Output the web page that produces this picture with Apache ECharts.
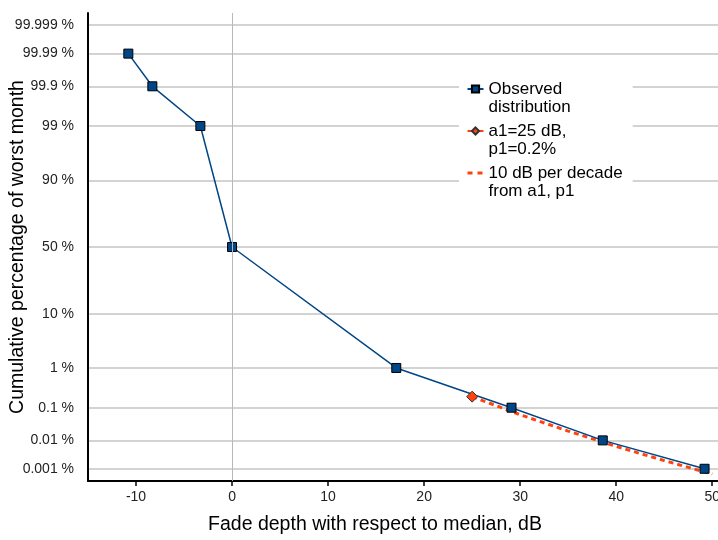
<!DOCTYPE html>
<html>
<head>
<meta charset="utf-8">
<style>
  html, body { margin: 0; padding: 0; background: #fff; }
  #chart { width: 718px; height: 540px; }
</style>
<script src="https://cdn.jsdelivr.net/npm/echarts@6/dist/echarts.min.js"></script>
</head>
<body>
<div id="chart"></div>
<script>
// observed distribution (fade depth dB, cumulative %)
const obsDepth = [-10.8, -8.3, -3.3, 0, 17.1, 29.1, 38.6, 49.2];
const obsPercent = [99.99, 99.9, 99, 50, 1, 0.1, 0.01, 0.001];
// reference point a1, p1
const refDepth = [25];
const refPercent = [0.2];
// 10 dB per decade from a1, p1
const slopeDepth = [25, 30, 35, 40, 45, 50];
const slopePercent = [0.2, 0.063, 0.02, 0.0063, 0.002, 0.00063];

const yTickPercent = [99.999, 99.99, 99.9, 99, 90, 50, 10, 1, 0.1, 0.01, 0.001];
const yTickLabels = ['99.999 %', '99.99 %', '99.9 %', '99 %', '90 %', '50 %', '10 %', '1 %', '0.1 %', '0.01 %', '0.001 %'];
const xTicks = [-10, 0, 10, 20, 30, 40, 50];

// normal probability scale: percent -> standard normal quantile
function probit(pct) {
  const p = pct / 100;
  const a = [-39.69683028665376, 220.9460984245205, -275.9285104469687, 138.3577518672690, -30.66479806614716, 2.506628277459239];
  const b = [-54.47609879822406, 161.5858368580409, -155.6989798598866, 66.80131188771972, -13.28068155288572];
  const c = [-0.007784894002430293, -0.3223964580411365, -2.400758277161838, -2.549732539343734, 4.374664141464968, 2.938163982698783];
  const d = [0.007784695709041462, 0.3224671290700398, 2.445134137142996, 3.754408661907416];
  const plow = 0.02425;
  let q, r;
  if (p < plow) {
    q = Math.sqrt(-2 * Math.log(p));
    return (((((c[0] * q + c[1]) * q + c[2]) * q + c[3]) * q + c[4]) * q + c[5]) /
      ((((d[0] * q + d[1]) * q + d[2]) * q + d[3]) * q + 1);
  }
  if (p > 1 - plow) {
    q = Math.sqrt(-2 * Math.log(1 - p));
    return -(((((c[0] * q + c[1]) * q + c[2]) * q + c[3]) * q + c[4]) * q + c[5]) /
      ((((d[0] * q + d[1]) * q + d[2]) * q + d[3]) * q + 1);
  }
  q = p - 0.5;
  r = q * q;
  return (((((a[0] * r + a[1]) * r + a[2]) * r + a[3]) * r + a[4]) * r + a[5]) * q /
    (((((b[0] * r + b[1]) * r + b[2]) * r + b[3]) * r + b[4]) * r + 1);
}

const pairs = (xs, ps) => xs.map((x, i) => [x, probit(ps[i])]);
const yTickZ = yTickPercent.map(probit);

const font = 'Liberation Sans, Arial, sans-serif';
const BLUE = '#004586';
const ORANGE = '#ff420e';

const chart = echarts.init(document.getElementById('chart'));
chart.setOption({
  animation: false,
  textStyle: { fontFamily: font },
  grid: { left: 88, right: 0, top: 13, bottom: 59, outerBoundsMode: 'none', containLabel: false },
  legend: {
    orient: 'vertical',
    left: 459,
    top: 57,
    padding: [5, 10, 5, 7],
    backgroundColor: '#fff',
    itemWidth: 16,
    itemHeight: 9,
    itemGap: -12,
    itemTextGap: 7,
    // leading blank line keeps the first text line level with the icon
    formatter: name => '\n' + name,
    textStyle: { fontSize: 17, lineHeight: 18, color: '#000', fontFamily: font },
    data: [
      'Observed\ndistribution',
      'a1=25 dB,\np1=0.2%',
      {
        name: '10 dB per decade\nfrom a1, p1',
        itemStyle: { opacity: 0 },
        lineStyle: { color: ORANGE, width: 3, type: [5, 5] }
      }
    ]
  },
  xAxis: {
    type: 'value',
    min: -15,
    max: 50.6,
    name: 'Fade depth with respect to median, dB',
    nameLocation: 'middle',
    nameGap: 34,
    nameMoveOverlap: false,
    nameTextStyle: { fontSize: 19.5, color: '#000', fontFamily: font, padding: [0, 56, 0, 0] },
    axisLine: { onZero: false, lineStyle: { color: '#000', width: 2 } },
    axisTick: { show: true, length: 5, customValues: xTicks, lineStyle: { color: '#000', width: 1.5 } },
    axisLabel: { customValues: xTicks, fontSize: 14, color: '#222', margin: 9 },
    splitLine: { show: false }
  },
  yAxis: {
    type: 'value',
    min: -4.5,
    max: 4.5,
    name: 'Cumulative percentage of worst month',
    nameLocation: 'middle',
    nameGap: 60,
    nameMoveOverlap: false,
    nameTextStyle: { fontSize: 19.5, color: '#000', fontFamily: font },
    axisLine: { show: true, onZero: false, lineStyle: { color: '#000', width: 2 } },
    axisTick: { show: false, customValues: yTickZ },
    axisLabel: {
      customValues: yTickZ,
      fontSize: 14,
      color: '#222',
      margin: 14,
      formatter: function (v) {
        let best = 0;
        yTickZ.forEach((z, i) => { if (Math.abs(z - v) < Math.abs(yTickZ[best] - v)) best = i; });
        return yTickLabels[best];
      }
    },
    splitLine: { show: true, lineStyle: { color: '#c4c4c4', width: 1.5 } }
  },
  series: [
    {
      name: '10 dB per decade\nfrom a1, p1',
      type: 'line',
      z: 2,
      showSymbol: false,
      symbol: 'none',
      data: pairs(slopeDepth, slopePercent),
      lineStyle: { color: ORANGE, width: 3, type: [5, 4] },
      itemStyle: { color: ORANGE }
    },
    {
      name: 'Observed\ndistribution',
      type: 'line',
      z: 3,
      symbol: 'rect',
      symbolSize: 9,
      data: pairs(obsDepth, obsPercent),
      lineStyle: { color: BLUE, width: 1.5 },
      itemStyle: { color: BLUE, borderColor: '#000', borderWidth: 1 },
      markLine: {
        silent: true,
        symbol: 'none',
        label: { show: false },
        lineStyle: { color: '#b8b8b8', width: 1, type: 'solid' },
        data: [{ xAxis: 0 }]
      }
    },
    {
      name: 'a1=25 dB,\np1=0.2%',
      type: 'line',
      z: 4,
      symbol: 'diamond',
      symbolSize: 11,
      data: pairs(refDepth, refPercent),
      lineStyle: { color: ORANGE, width: 1.5 },
      itemStyle: { color: ORANGE, borderColor: '#333', borderWidth: 1 }
    }
  ]
});
</script>
</body>
</html>
